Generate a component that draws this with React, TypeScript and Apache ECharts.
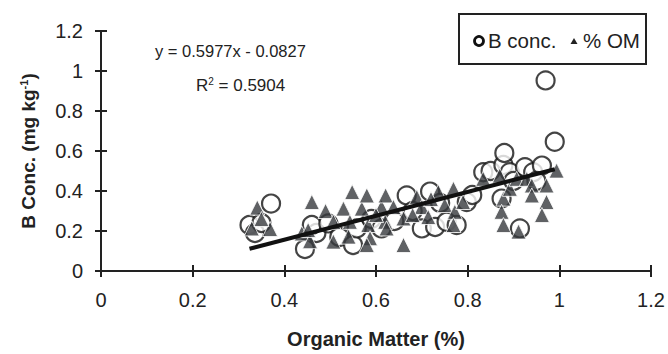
import React, { useEffect, useRef } from "react";
import * as echarts from "echarts";

// B concentration (circles)
const bConcX = [0.324, 0.336, 0.371, 0.35, 0.445, 0.47, 0.46, 0.496, 0.52, 0.55, 0.558, 0.59, 0.612, 0.64, 0.667, 0.68, 0.7, 0.718, 0.729, 0.74, 0.754, 0.776, 0.798, 0.81, 0.834, 0.85, 0.874, 0.878, 0.88, 0.892, 0.914, 0.925, 0.943, 0.962, 0.97, 0.99, 0.9, 0.95];
const bConcY = [0.23, 0.19, 0.337, 0.24, 0.11, 0.19, 0.23, 0.238, 0.17, 0.13, 0.213, 0.26, 0.213, 0.25, 0.378, 0.3, 0.213, 0.397, 0.22, 0.34, 0.246, 0.23, 0.345, 0.38, 0.494, 0.5, 0.362, 0.53, 0.59, 0.494, 0.213, 0.519, 0.494, 0.527, 0.953, 0.646, 0.45, 0.45];

// % OM (triangles)
const omX = [0.341, 0.329, 0.369, 0.35, 0.46, 0.438, 0.456, 0.452, 0.49, 0.507, 0.507, 0.529, 0.543, 0.54, 0.548, 0.569, 0.58, 0.583, 0.587, 0.58, 0.612, 0.62, 0.621, 0.623, 0.638, 0.66, 0.66, 0.689, 0.7, 0.714, 0.736, 0.75, 0.769, 0.772, 0.79, 0.769, 0.834, 0.87, 0.878, 0.874, 0.878, 0.911, 0.892, 0.907, 0.929, 0.94, 0.94, 0.972, 0.962, 0.972, 0.994, 0.68, 0.72, 0.6];
const omY = [0.317, 0.213, 0.21, 0.26, 0.345, 0.188, 0.149, 0.205, 0.3, 0.246, 0.147, 0.312, 0.246, 0.172, 0.395, 0.312, 0.378, 0.23, 0.164, 0.13, 0.32, 0.246, 0.378, 0.213, 0.32, 0.263, 0.13, 0.37, 0.32, 0.27, 0.395, 0.33, 0.411, 0.296, 0.345, 0.23, 0.461, 0.477, 0.362, 0.296, 0.23, 0.197, 0.411, 0.461, 0.461, 0.428, 0.378, 0.345, 0.28, 0.428, 0.502, 0.28, 0.36, 0.28];

// Trendline coefficients
const slope = 0.5977;
const intercept = -0.0827;
const rSquared = "0.5904";

const xTicks = ["0", "0.2", "0.4", "0.6", "0.8", "1", "1.2"];

const FONT = "'Liberation Sans', Arial, sans-serif";

export default function App() {
  const ref = useRef<HTMLDivElement>(null);
  useEffect(() => {
    if (!ref.current) return;
    const chart = echarts.init(ref.current, null, { renderer: "svg" });
    const xmin = Math.min(...bConcX);
    const xmax = Math.max(...bConcX);
    const trend = [
      [xmin, slope * xmin + intercept],
      [xmax, slope * xmax + intercept],
    ];
    const axisCommon = {
      min: 0,
      max: 1.2,
      interval: 0.2,
      splitLine: { show: false },
    };
    const labelStyle = { color: "#222", fontSize: 20, fontFamily: FONT };
    chart.setOption({
      animation: false,
      backgroundColor: "#fff",
      grid: { left: 101, right: 17, top: 31, bottom: 81, containLabel: false },
      xAxis: [
        {
          ...axisCommon,
          type: "value",
          axisLine: { show: true, lineStyle: { color: "#222", width: 2 } },
          axisTick: { show: true, length: 6, lineStyle: { color: "#222", width: 2 } },
          axisLabel: {
            ...labelStyle,
            margin: 19,
            formatter: (v: number) => xTicks[Math.round(v / 0.2)] ?? "",
          },
          name: "Organic Matter (%)",
          nameLocation: "middle",
          nameGap: 58,
          nameTextStyle: { color: "#222", fontSize: 20, fontWeight: "bold", fontFamily: FONT },
        },
        {
          ...axisCommon,
          type: "value",
          position: "bottom",
          axisLine: { show: false },
          axisTick: { show: true, inside: true, length: 6, lineStyle: { color: "#222", width: 2 } },
          axisLabel: { show: false },
        },
      ],
      yAxis: [
        {
          ...axisCommon,
          type: "value",
          axisLine: { show: true, lineStyle: { color: "#222", width: 2 } },
          axisTick: { show: true, length: 6, lineStyle: { color: "#222", width: 2 } },
          axisLabel: { ...labelStyle, margin: 18 },
          name: "{a|B Conc. (mg kg}{s|-1}{a|)}",
          nameLocation: "middle",
          nameGap: 62,
          nameTextStyle: {
            rich: {
              a: { color: "#222", fontSize: 19, fontWeight: "bold", fontFamily: FONT },
              s: { color: "#222", fontSize: 11, fontWeight: "bold", fontFamily: FONT, verticalAlign: "top", padding: [0, 0, 10, 0] },
            },
          },
        },
        {
          ...axisCommon,
          type: "value",
          position: "left",
          axisLine: { show: false },
          axisTick: { show: true, inside: true, length: 6, lineStyle: { color: "#222", width: 2 } },
          axisLabel: { show: false },
        },
      ],
      series: [
        {
          name: "B conc.",
          type: "scatter",
          symbol: "circle",
          symbolSize: 18,
          itemStyle: { color: "#fff", borderColor: "#151515", borderWidth: 2.2 },
          data: bConcX.map((x, i) => [x, bConcY[i]]),
          z: 2,
        },
        {
          name: "% OM",
          type: "scatter",
          symbol: "triangle",
          symbolSize: 15,
          itemStyle: { color: "#37393d", borderColor: "#fff", borderWidth: 1 },
          data: omX.map((x, i) => [x, omY[i]]),
          z: 3,
        },
        {
          name: "trend",
          type: "line",
          data: trend,
          symbol: "none",
          lineStyle: { color: "#111", width: 4 },
          z: 4,
        },
      ],
      graphic: [
        {
          type: "text",
          left: 155,
          top: 42,
          style: { text: "y = 0.5977x - 0.0827", fill: "#222", fontSize: 16.5, fontFamily: FONT },
        },
        {
          type: "text",
          left: 196,
          top: 76,
          style: {
            text: "{a|R}{s|2}{a| = " + rSquared + "}",
            rich: {
              a: { fill: "#222", fontSize: 17, fontFamily: FONT },
              s: { fill: "#222", fontSize: 10, fontFamily: FONT, verticalAlign: "top", padding: [0, 0, 8, 0] },
            },
          },
        },
        {
          type: "group",
          left: 458,
          top: 13,
          children: [
            {
              type: "rect",
              shape: { x: 0, y: 0, width: 187, height: 50 },
              style: { fill: "#fff", stroke: "#222", lineWidth: 2 },
            },
            {
              type: "circle",
              shape: { cx: 20, cy: 27, r: 4.5 },
              style: { fill: "#fff", stroke: "#111", lineWidth: 2.8 },
            },
            {
              type: "text",
              x: 29,
              y: 26,
              style: { text: "B conc.", fill: "#222", fontSize: 20.5, fontFamily: FONT, verticalAlign: "middle" },
            },
            {
              type: "polygon",
              shape: { points: [[115, 24], [118.5, 30], [111.5, 30]] },
              style: { fill: "#222" },
            },
            {
              type: "text",
              x: 124,
              y: 26,
              style: { text: "% OM", fill: "#222", fontSize: 20.5, fontFamily: FONT, verticalAlign: "middle" },
            },
          ],
        },
      ],
    });
    return () => chart.dispose();
  }, []);
  return <div ref={ref} style={{ position: "fixed", left: 0, top: 0, width: 668, height: 354 }} />;
}
